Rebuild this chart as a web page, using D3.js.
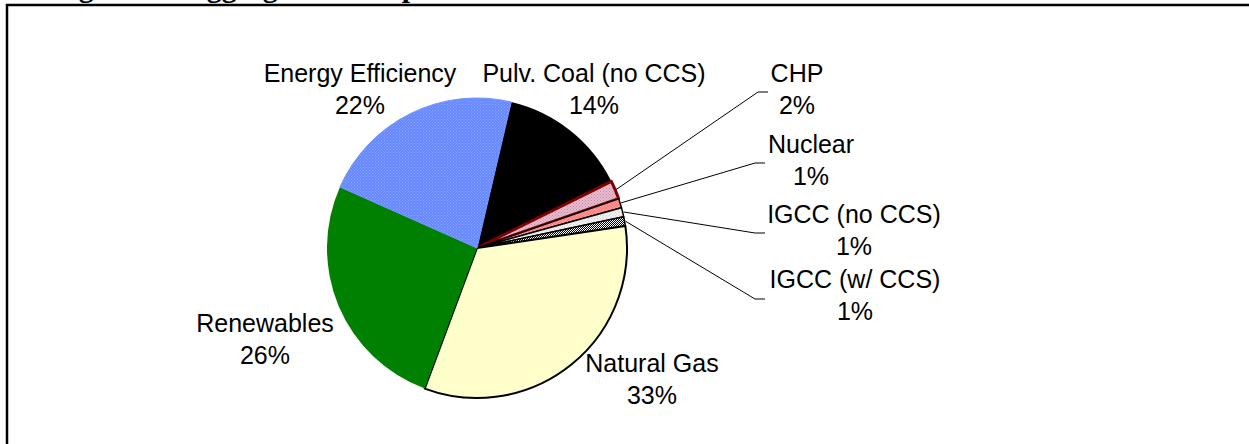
<!DOCTYPE html>
<html>
<head>
<meta charset="utf-8">
<script src="https://cdn.jsdelivr.net/npm/d3@7"></script>
<style>
  body { margin: 0; background: #fff; }
  svg { display: block; }
  .lbl { font-family: "Liberation Sans", Arial, sans-serif; font-size: 25px; fill: #000; }
</style>
</head>
<body>
<svg id="chart" width="1249" height="444"></svg>
<script>
// Data (Excel pie, clockwise from the first slice)
const categories = [
  "Pulv. Coal (no CCS)",
  "CHP",
  "Nuclear",
  "IGCC (no CCS)",
  "IGCC (w/ CCS)",
  "Natural Gas",
  "Renewables",
  "Energy Efficiency",
];
const shares = [14, 2, 1, 1, 1, 33, 26, 22];
const shareLabels = ["14%", "2%", "1%", "1%", "1%", "33%", "26%", "22%"];

// Layout of the label blocks (center x, first baseline y) and leader elbows
const labelPos = [
  { x: 594, y: 82 },
  { x: 797, y: 82 },
  { x: 811, y: 153 },
  { x: 854, y: 223 },
  { x: 855, y: 288 },
  { x: 652, y: 372 },
  { x: 265, y: 332 },
  { x: 360, y: 82 },
];
const leaders = [null, { x: 758, y: 92 }, { x: 755, y: 163 }, { x: 755, y: 233 }, { x: 755, y: 299 }, null, null, null];

const svg = d3.select("#chart");
const defs = svg.append("defs");

// Fill patterns used by Excel
function dotPattern(id, base, dot) {
  const p = defs.append("pattern").attr("id", id).attr("width", 3).attr("height", 3)
    .attr("patternUnits", "userSpaceOnUse");
  p.append("rect").attr("width", 3).attr("height", 3).attr("fill", base);
  p.append("rect").attr("width", 1).attr("height", 1).attr("fill", dot);
  p.append("rect").attr("x", 1.5).attr("y", 1.5).attr("width", 1).attr("height", 1).attr("fill", dot);
}
dotPattern("pEE", "#6688ff", "#8ea8ff");
dotPattern("pCHP", "#e8bcd0", "#c7879f");
dotPattern("pNuc", "#ff7f7f", "#ffb0b0");
dotPattern("pIg", "#f2f2f2", "#d0d0d0");
const chk = defs.append("pattern").attr("id", "pChk").attr("width", 2).attr("height", 2)
  .attr("patternUnits", "userSpaceOnUse");
chk.append("rect").attr("width", 2).attr("height", 2).attr("fill", "#fff");
chk.append("rect").attr("width", 1).attr("height", 1).attr("fill", "#000");
chk.append("rect").attr("x", 1).attr("y", 1).attr("width", 1).attr("height", 1).attr("fill", "#000");

const fills = ["#000000", "url(#pCHP)", "url(#pNuc)", "url(#pIg)", "url(#pChk)", "#ffffcc", "#008000", "url(#pEE)"];
const strokes = ["none", "#800000", "#000", "#000", "#000", "#000", "none", "#6f90ff"];
const strokeW = [0, 3, 1.5, 1.5, 1.5, 2, 0, 1];

// Title (cut off at the top of the image, only descenders show)
const title = svg.append("text")
  .attr("y", -3)
  .style("font-family", "'Liberation Serif', 'Times New Roman', serif")
  .style("font-weight", "bold").style("font-size", "30px");
title.append("tspan").attr("x", 52).text("Figure 4:");
title.append("tspan").attr("x", 185).text("Aggregate");
title.append("tspan").attr("x", 365).text("Impacts");

// Frame
svg.append("rect")
  .attr("x", 7).attr("y", 5).attr("width", 1300).attr("height", 500)
  .attr("fill", "none").attr("stroke", "#000").attr("stroke-width", 2.5);

const cx = 477, cy = 248, r = 150;
const startDeg = 13.2;
const pie = d3.pie().sort(null).value((d) => d)
  .startAngle(startDeg * Math.PI / 180)
  .endAngle(startDeg * Math.PI / 180 + 2 * Math.PI);
const arcs = pie(shares);
const arc = d3.arc().innerRadius(0).outerRadius(r);

const g = svg.append("g").attr("transform", `translate(${cx},${cy})`);
g.selectAll("path.slice")
  .data(arcs)
  .join("path")
  .attr("class", "slice")
  .attr("d", arc)
  .attr("fill", (d, i) => fills[i])
  .attr("stroke", (d, i) => strokes[i])
  .attr("stroke-width", (d, i) => strokeW[i])
  .attr("stroke-linejoin", "round");

// Leader lines for the small slices
arcs.forEach((a, i) => {
  if (!leaders[i]) return;
  const mid = (a.startAngle + a.endAngle) / 2;
  const sx = cx + Math.sin(mid) * (r + 1);
  const sy = cy - Math.cos(mid) * (r + 1);
  svg.append("polyline")
    .attr("points", `${sx},${sy} ${leaders[i].x},${leaders[i].y} ${leaders[i].x + 10},${leaders[i].y}`)
    .attr("fill", "none").attr("stroke", "#000").attr("stroke-width", 1);
});

// Labels
categories.forEach((name, i) => {
  const t = svg.append("text").attr("class", "lbl").attr("text-anchor", "middle");
  t.append("tspan").attr("x", labelPos[i].x).attr("y", labelPos[i].y).text(name);
  t.append("tspan").attr("x", labelPos[i].x).attr("y", labelPos[i].y + 32).text(shareLabels[i]);
});
</script>
</body>
</html>
